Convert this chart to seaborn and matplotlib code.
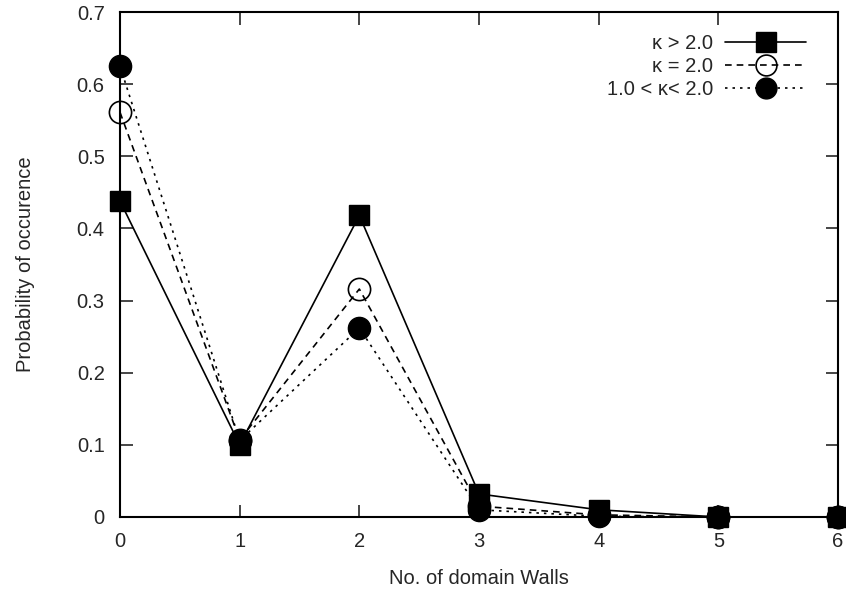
import matplotlib
matplotlib.use("Agg")
import matplotlib.pyplot as plt
import seaborn as sns
import pandas as pd

walls = [0, 1, 2, 3, 4, 5, 6]
k_gt2 = [0.438, 0.100, 0.418, 0.032, 0.010, 0.0, 0.0]
k_eq2 = [0.561, 0.107, 0.316, 0.015, 0.003, 0.0, 0.0]
k_1to2 = [0.625, 0.106, 0.262, 0.010, 0.001, 0.0, 0.0]
labels = ["κ > 2.0", "κ = 2.0", "1.0 < κ< 2.0"]

sns.set_style("ticks")
plt.rcParams['font.family'] = ['Liberation Sans', 'DejaVu Sans']

fig = plt.figure(figsize=(8.46, 5.95), dpi=100)
ax = fig.add_axes([120/846, 78/595, 718/846, 505/595])

styles = [
    dict(ls='-', marker='s', mfc='black', mec='black', ms=15, mew=1.0),
    dict(ls=(0, (4, 3)), marker='o', mfc='none', mec='black', ms=16, mew=1.2),
    dict(ls=(0, (1.5, 3)), marker='o', mfc='black', mec='black', ms=16, mew=1.0),
]
for vals, lab, st in zip([k_gt2, k_eq2, k_1to2], labels, styles):
    df = pd.DataFrame({"x": walls, "y": vals})
    sns.lineplot(data=df, x="x", y="y", ax=ax, color='black', lw=1.2,
                 linestyle=st['ls'], marker=st['marker'], markersize=st['ms'],
                 markerfacecolor=st['mfc'], markeredgecolor=st['mec'],
                 markeredgewidth=st['mew'], label=lab, clip_on=False,
                 zorder=3)

ax.set_xlim(0, 6)
ax.set_ylim(0, 0.7)
ax.set_xticks(walls)
ax.set_yticks([0, 0.1, 0.2, 0.3, 0.4, 0.5, 0.6, 0.7])
ax.set_yticklabels(["0", "0.1", "0.2", "0.3", "0.4", "0.5", "0.6", "0.7"])
ax.tick_params(direction='in', top=True, right=True, length=9, width=1.2,
               labelsize=14.5, pad=11)
for s in ax.spines.values():
    s.set_linewidth(1.5)
    s.set_color('black')
    s.set_visible(True)
ax.set_xlabel("No. of domain Walls", fontsize=14.5, labelpad=13)
ax.set_ylabel("Probability of occurence", fontsize=14.5, labelpad=30)

leg = ax.legend(loc='upper right', frameon=False, markerfirst=False,
                fontsize=14.5, handlelength=4.0, handletextpad=0.6,
                labelspacing=0.2, borderaxespad=0.3,
                bbox_to_anchor=(0.975, 0.985))
for h in leg.legend_handles:
    h.set_markersize(15)

fig.savefig("out.png", dpi=100)
